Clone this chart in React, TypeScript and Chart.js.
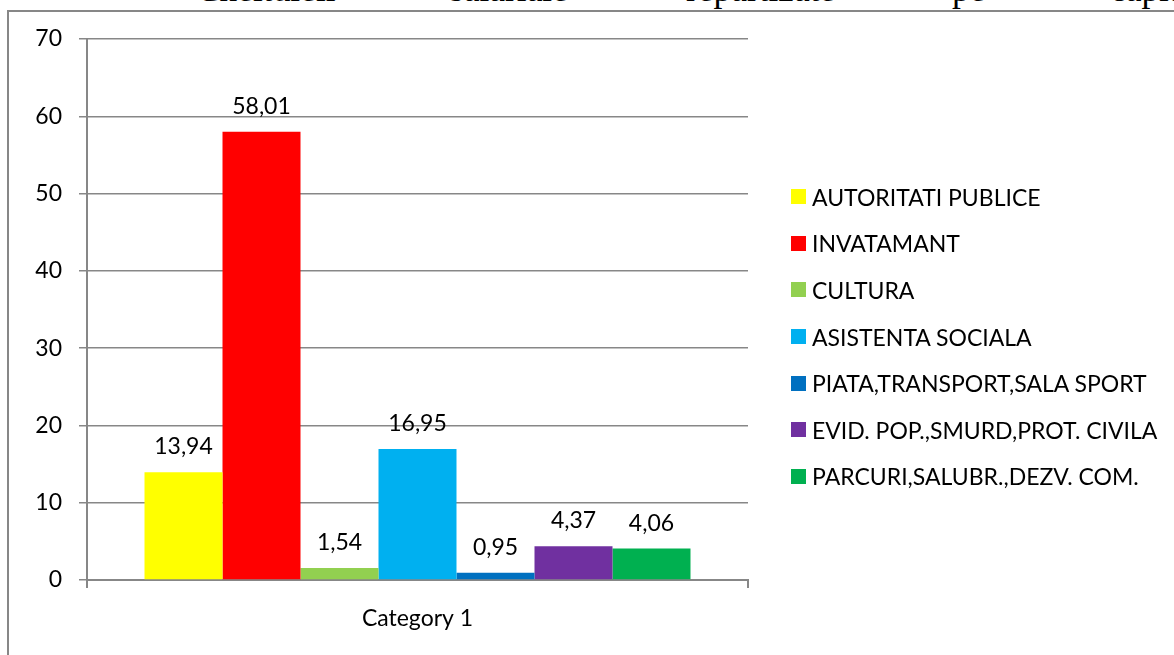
import React, { useEffect, useRef } from "react";
import { Chart, registerables } from "chart.js";

Chart.register(...registerables);

// ---- data ----
const categories: string[] = ["Category 1"];
const seriesNames: string[] = [
  "AUTORITATI PUBLICE",
  "INVATAMANT",
  "CULTURA",
  "ASISTENTA SOCIALA",
  "PIATA,TRANSPORT,SALA SPORT",
  "EVID. POP.,SMURD,PROT. CIVILA",
  "PARCURI,SALUBR.,DEZV. COM.",
];
const seriesValues: number[] = [13.94, 58.01, 1.54, 16.95, 0.95, 4.37, 4.06];
const seriesColors: string[] = [
  "#FFFF00",
  "#FF0000",
  "#92D050",
  "#00B0F0",
  "#0070C0",
  "#7030A0",
  "#00B050",
];
const yMin = 0;
const yMax = 70;
const yStep = 10;
const titleWords: string[] = ["Cheltuieli", "salariale", "repartizate", "pe", "capitole"];

// ---- layout / style ----
const W = 1174;
const H = 655;
const FONT = "Lato, 'Open Sans', sans-serif";
const FONT_SIZE = 23;
const GRID = "#878787";
const titleWordX = [196, 450, 686, 952, 1110];
const legendX = 791;
const legendTop = 196.7;
const legendStep = 46.6;

const fmt = (v: number) => v.toFixed(2).replace(".", ",");

const dataLabelPlugin = {
  id: "dataLabels",
  afterDatasetsDraw(chart: any) {
    const ctx = chart.ctx;
    ctx.save();
    ctx.font = `${FONT_SIZE}px ${FONT}`;
    ctx.fillStyle = "#000";
    ctx.textAlign = "center";
    ctx.textBaseline = "alphabetic";
    chart.data.datasets.forEach((ds: any, i: number) => {
      const meta = chart.getDatasetMeta(i);
      meta.data.forEach((bar: any, j: number) => {
        const v = ds.data[j];
        ctx.fillText(fmt(v), bar.x, bar.y - 18);
      });
    });
    ctx.restore();
  },
};

export default function App() {
  const canvasRef = useRef<HTMLCanvasElement | null>(null);

  useEffect(() => {
    document.body.style.margin = "0";
    document.body.style.overflow = "hidden";
    const canvas = canvasRef.current;
    if (!canvas) return;
    const chart = new Chart(canvas, {
      type: "bar",
      data: {
        labels: categories,
        datasets: seriesNames.map((name, i) => ({
          label: name,
          data: [seriesValues[i]],
          backgroundColor: seriesColors[i],
          borderWidth: 0,
          categoryPercentage: 0.826,
          barPercentage: 1,
        })),
      },
      options: {
        animation: false,
        responsive: false,
        maintainAspectRatio: false,
        layout: { padding: { left: 0, top: 39, right: 426, bottom: 0 } },
        plugins: {
          legend: { display: false },
          tooltip: { enabled: false },
          title: { display: false },
        },
        scales: {
          x: {
            type: "category",
            grid: {
              offset: true,
              drawOnChartArea: false,
              drawTicks: true,
              tickLength: 8,
              color: GRID,
              lineWidth: 2,
            },
            border: { display: true, color: GRID, width: 2 },
            ticks: {
              color: "#000",
              font: { family: FONT, size: FONT_SIZE },
              padding: 17,
            },
            afterFit(scale: any) {
              scale.height = 75;
            },
          },
          y: {
            min: yMin,
            max: yMax,
            ticks: {
              stepSize: yStep,
              color: "#000",
              font: { family: FONT, size: FONT_SIZE },
              padding: 17,
            },
            grid: {
              color: GRID,
              lineWidth: 1.5,
              drawTicks: true,
              tickLength: 8,
            },
            border: { display: true, color: GRID, width: 2 },
            afterFit(scale: any) {
              scale.width = 87;
            },
          },
        },
      },
      plugins: [dataLabelPlugin],
    });
    if ((document as any).fonts && (document as any).fonts.load) {
      (document as any).fonts.load(`${FONT_SIZE}px Lato`).then(() => chart.update());
    }
    return () => {
      chart.destroy();
    };
  }, []);

  return (
    <div
      style={{
        position: "fixed",
        left: 0,
        top: 0,
        width: W,
        height: H,
        overflow: "hidden",
        background: "#fff",
      }}
    >
      {titleWords.map((w, i) => (
        <span
          key={w}
          style={{
            position: "absolute",
            left: titleWordX[i],
            top: -28,
            fontFamily: "'Liberation Serif', 'Times New Roman', serif",
            fontSize: 35.4,
            lineHeight: "35.4px",
            color: "#000",
            whiteSpace: "nowrap",
          }}
        >
          {w}
        </span>
      ))}
      <div
        style={{
          position: "absolute",
          left: 7,
          top: 10,
          width: 1300,
          height: 800,
          border: `2px solid ${GRID}`,
          boxSizing: "border-box",
        }}
      />
      <canvas
        ref={canvasRef}
        width={W}
        height={H}
        style={{ position: "absolute", left: 0, top: 0, width: W, height: H }}
      />
      {seriesNames.map((name, i) => (
        <div
          key={name}
          style={{
            position: "absolute",
            left: legendX,
            top: legendTop + i * legendStep - 15,
            height: 30,
            display: "flex",
            alignItems: "center",
            fontFamily: FONT,
            fontSize: FONT_SIZE,
            color: "#000",
            whiteSpace: "nowrap",
          }}
        >
          <span
            style={{
              display: "inline-block",
              width: 15,
              height: 15,
              background: seriesColors[i],
              marginRight: 6,
            }}
          />
          <span>{name}</span>
        </div>
      ))}
    </div>
  );
}
